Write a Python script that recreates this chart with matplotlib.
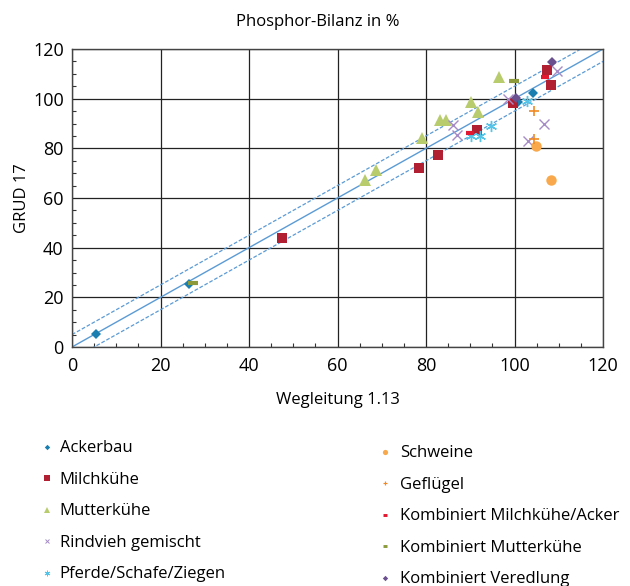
import matplotlib
matplotlib.use("Agg")
import matplotlib.pyplot as plt
from matplotlib.ticker import MultipleLocator
from matplotlib.lines import Line2D
import numpy as np

plt.rcParams['font.family'] = ['Open Sans', 'DejaVu Sans']

title = "Phosphor-Bilanz in %"
xlabel = "Wegleitung 1.13"
ylabel = "GRUD 17"

# series: (x = Wegleitung 1.13, y = GRUD 17)
ackerbau_x = [5.4, 26.4, 104.1, 100.8]
ackerbau_y = [5.2, 25.3, 102.2, 98.5]
milchkuehe_x = [47.4, 78.4, 82.6, 91.6, 99.7, 107.4, 108.2]
milchkuehe_y = [43.8, 72.2, 77.3, 87.4, 98.1, 111.6, 105.5]
mutterkuehe_x = [66.2, 68.7, 79.2, 83.2, 84.5, 90.2, 91.7, 96.4]
mutterkuehe_y = [67.3, 71.3, 84.0, 91.4, 91.4, 98.8, 94.8, 108.6]
rindvieh_x = [86.2, 87.1, 98.6, 103.1, 106.7, 109.5]
rindvieh_y = [89.4, 85.4, 99.8, 83.1, 89.8, 111.3]
pferde_x = [90.1, 92.1, 94.8, 102.8]
pferde_y = [84.8, 85.0, 88.8, 99.2]
schweine_x = [104.9, 108.2]
schweine_y = [81.0, 67.3]
gefluegel_x = [104.5, 104.4]
gefluegel_y = [95.0, 83.6]
komb_milch_x = [89.9, 106.9]
komb_milch_y = [86.0, 108.6]
komb_mutter_x = [27.4, 99.8]
komb_mutter_y = [25.8, 107.0]
komb_vered_x = [100.4, 108.4]
komb_vered_y = [100.2, 114.7]

band = 5  # +/- tolerance lines

fig = plt.figure(figsize=(6.30, 5.86), dpi=100)
ax = fig.add_axes([72/630, 1-347/586, (603-72)/630, (347-49)/586])

line_c = '#5b9bd5'
xs = np.array([0, 120])
ax.plot(xs, xs, color=line_c, lw=1.0, zorder=2)
ax.plot(xs, xs + band, color=line_c, lw=0.9, ls=(0, (3, 1.5)), zorder=2)
ax.plot(xs, xs - band, color=line_c, lw=0.9, ls=(0, (3, 1.5)), zorder=2)

series = [
    ("Ackerbau", ackerbau_x, ackerbau_y, dict(marker='D', color='#1a7fb0', ms=5.5, mew=0)),
    ("Milchkühe", milchkuehe_x, milchkuehe_y, dict(marker='s', color='#b11f32', ms=7.5, mew=0)),
    ("Mutterkühe", mutterkuehe_x, mutterkuehe_y, dict(marker='^', color='#b8cc6e', ms=8, mew=0)),
    ("Rindvieh gemischt", rindvieh_x, rindvieh_y, dict(marker='x', color='#a68bc6', ms=7, mew=1.0)),
    ("Pferde/Schafe/Ziegen", pferde_x, pferde_y, dict(marker=(6, 2, 0), color='#55c4e6', ms=8, mew=1.0)),
    ("Schweine", schweine_x, schweine_y, dict(marker='o', color='#f9a94b', ms=7.5, mew=0)),
    ("Geflügel", gefluegel_x, gefluegel_y, dict(marker='+', color='#f08a24', ms=7, mew=1.2)),
    ("Kombiniert Milchkühe/Acker", komb_milch_x, komb_milch_y, dict(marker='_', color='#e3172f', ms=6, mew=3)),
    ("Kombiniert Mutterkühe", komb_mutter_x, komb_mutter_y, dict(marker='_', color='#8c9a3c', ms=7, mew=3)),
    ("Kombiniert Veredlung", komb_vered_x, komb_vered_y, dict(marker='D', color='#6b5090', ms=5.5, mew=0)),
]

handles = []
for name, x, y, st in series:
    h, = ax.plot(x, y, ls='none', label=name, zorder=3, **st)
    handles.append(h)

ax.set_xlim(0, 120)
ax.set_ylim(0, 120)
ax.xaxis.set_major_locator(MultipleLocator(20))
ax.yaxis.set_major_locator(MultipleLocator(20))
ax.xaxis.set_minor_locator(MultipleLocator(5))
ax.yaxis.set_minor_locator(MultipleLocator(5))
ax.grid(True, which='major', color='#222222', lw=0.9)
ax.set_axisbelow(True)
ax.tick_params(which='both', direction='in', length=3, width=0.8, color='#333333',
               labelsize=13)
ax.tick_params(axis='x', which='major', length=0, pad=7)
ax.tick_params(axis='y', which='major', length=0, pad=6)
for s in ax.spines.values():
    s.set_color('#444444')
    s.set_linewidth(1.0)

ax.set_xlabel(xlabel, fontsize=12, va='center')
ax.set_ylabel(ylabel, fontsize=12, va='center')
ax.xaxis.set_label_coords(0.5, (347-400)/298)
ax.yaxis.set_label_coords((22-72)/531, 0.5)
fig.text(318/630, 1-22/586, title, fontsize=12, ha='center', va='center')

small = []
for h in handles:
    small.append(Line2D([], [], ls='none', marker=h.get_marker(), color=h.get_color(),
                        ms=h.get_markersize()*0.5, mew=h.get_markeredgewidth()*0.7))
leg1 = fig.legend(small[:5], [s[0] for s in series[:5]], loc='upper left',
                  bbox_to_anchor=(32/630, 1-432/586), frameon=False, fontsize=12,
                  labelspacing=0.93, handlelength=0.8, handletextpad=0.35, borderpad=0)
leg2 = fig.legend(small[5:], [s[0] for s in series[5:]], loc='upper left',
                  bbox_to_anchor=(370/630, 1-437/586), frameon=False, fontsize=12,
                  labelspacing=0.93, handlelength=0.8, handletextpad=0.5, borderpad=0)

fig.savefig("out.png", dpi=100)
